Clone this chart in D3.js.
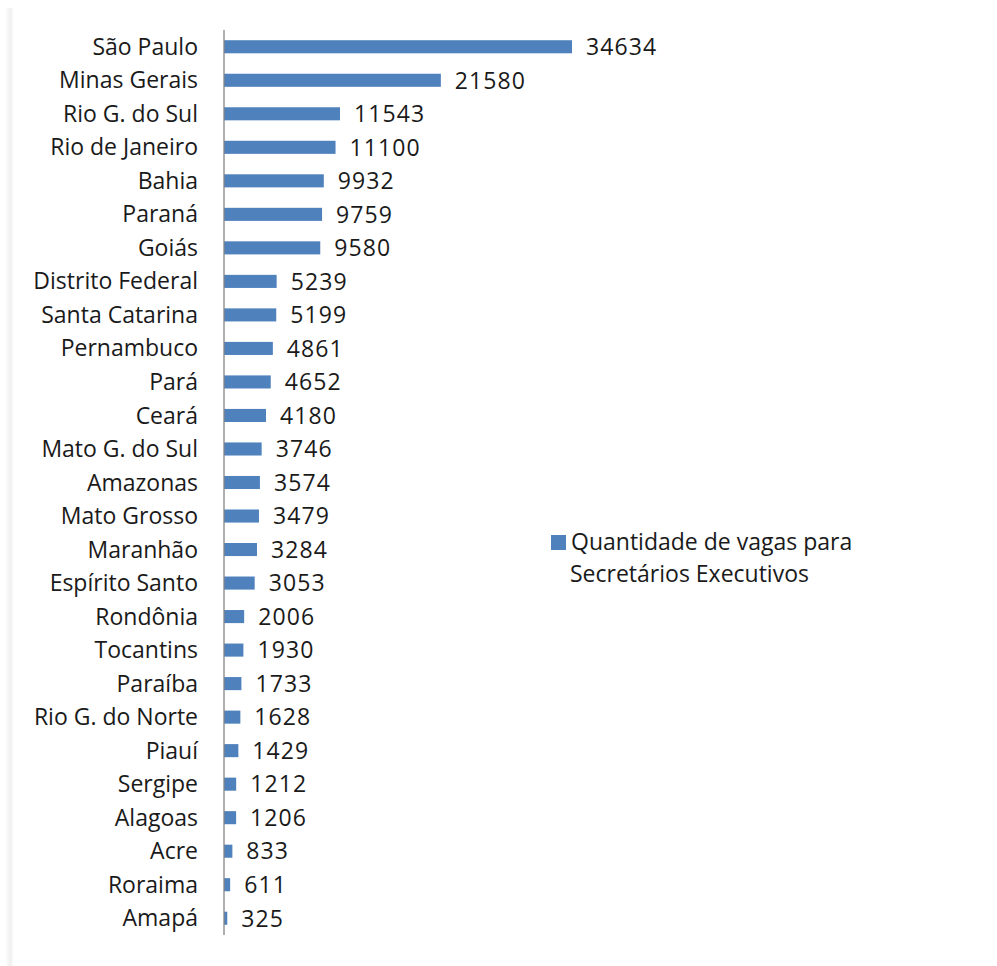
<!DOCTYPE html>
<html><head><meta charset="utf-8">
<script src="https://cdn.jsdelivr.net/npm/d3@7"></script>
<style>body{margin:0;background:#fff}svg{display:block}text{font-family:"Open Sans","Noto Sans",sans-serif;fill:#1a1a1a}</style>
</head><body>
<script>
const states = ["São Paulo","Minas Gerais","Rio G. do Sul","Rio de Janeiro","Bahia","Paraná","Goiás","Distrito Federal","Santa Catarina","Pernambuco","Pará","Ceará","Mato G. do Sul","Amazonas","Mato Grosso","Maranhão","Espírito Santo","Rondônia","Tocantins","Paraíba","Rio G. do Norte","Piauí","Sergipe","Alagoas","Acre","Roraima","Amapá"];
const vagas = [34634,21580,11543,11100,9932,9759,9580,5239,5199,4861,4652,4180,3746,3574,3479,3284,3053,2006,1930,1733,1628,1429,1212,1206,833,611,325];
const legendLines = ["Quantidade de vagas para","Secretários Executivos"];

const W=997,H=966,FS="23px";
const svg=d3.select("body").append("svg").attr("width",W).attr("height",H);
const defs=svg.append("defs");
const g1=defs.append("linearGradient").attr("id","sh").attr("x1","0").attr("x2","1");
g1.append("stop").attr("offset","0").attr("stop-color","#fff");
g1.append("stop").attr("offset","0.6").attr("stop-color","#f0f0f0");
g1.append("stop").attr("offset","1").attr("stop-color","#fff");
svg.append("rect").attr("x",5).attr("y",8).attr("width",9).attr("height",H-8).attr("fill","url(#sh)");

const x=d3.scaleLinear().domain([0,35000]).range([224,575.7]);
const y=d3.scaleBand().domain(states).range([30,935]).paddingInner(0.61).paddingOuter(0.305);

svg.selectAll("rect.bar").data(states).join("rect").attr("class","bar")
 .attr("x",x(0)).attr("y",d=>y(d)).attr("height",y.bandwidth())
 .attr("width",(d,i)=>x(vagas[i])-x(0)).attr("fill","#4F81BD");

const ax=svg.append("g").attr("transform",`translate(${x(0)},0)`)
 .call(d3.axisLeft(y).tickSize(0).tickPadding(26));
ax.select(".domain").attr("stroke","#868686").attr("stroke-width",1.3).attr("d","M0,30V935");
ax.selectAll("text").style("font-size",FS).attr("fill","#1a1a1a").attr("dy","0.35em");

svg.selectAll("text.val").data(states).join("text").attr("class","val")
 .attr("x",(d,i)=>x(vagas[i])+14).attr("y",d=>y(d)+y.bandwidth()/2).attr("dy","0.36em")
 .style("font-size",FS).style("letter-spacing","1.1px").text((d,i)=>vagas[i]);

svg.append("rect").attr("x",551).attr("y",535).attr("width",15).attr("height",15).attr("fill","#4F81BD");
svg.selectAll("text.leg").data(legendLines).join("text").attr("class","leg")
 .attr("x",(d,i)=>i===0?571:570).attr("y",(d,i)=>550+i*32).style("font-size",FS).text(d=>d);
</script>
</body></html>
